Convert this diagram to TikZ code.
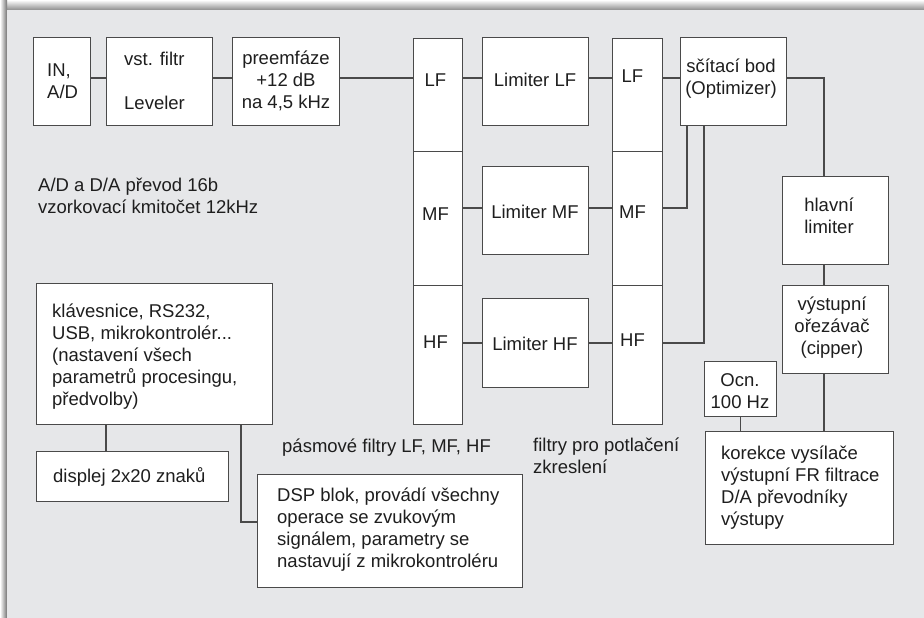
\documentclass[tikz,border=0pt]{standalone}
\usepackage{fontspec}
\setmainfont{Liberation Sans}
\definecolor{panel}{HTML}{E6E7E9}
\definecolor{linec}{HTML}{4A4A4A}
\definecolor{textc}{HTML}{1E1E1E}
\begin{document}
\begin{tikzpicture}[x=1pt,y=-1pt,
  box/.style={draw=linec, fill=white, line width=1.2pt, inner sep=0pt, anchor=north west},
  conn/.style={draw=linec, line width=1.2pt},
  txt/.style={anchor=base west, inner sep=0pt, align=left, text=textc,
     font=\fontsize{18.5}{22}\selectfont},
  ctxt/.style={anchor=base, inner sep=0pt, align=center, text=textc,
     font=\fontsize{18.5}{22}\selectfont}]
% background
\useasboundingbox (0,0) rectangle (924,618);
\fill[white] (0,0) rectangle (924,618);
\shade[top color=white, bottom color=black!45] (0,0) rectangle (924,10);
\shade[left color=white, right color=black!55] (0,0) rectangle (7,618);
\fill[panel] (7,10) rectangle (924,618);
% boxes
\node[box, minimum width=57pt, minimum height=88pt] (inad) at (33,37) {};
\node[box, minimum width=106pt, minimum height=88pt] (vst) at (106,37) {};
\node[box, minimum width=107pt, minimum height=88pt] (pre) at (232,37) {};
\node[box, minimum width=49pt, minimum height=113pt] (bfL) at (413,38) {};
\node[box, minimum width=49pt, minimum height=134pt] (bfM) at (413,151) {};
\node[box, minimum width=49pt, minimum height=139pt] (bfH) at (413,285) {};
\node[box, minimum width=106pt, minimum height=88pt] (limL) at (482,37) {};
\node[box, minimum width=106pt, minimum height=88pt] (limM) at (482,166) {};
\node[box, minimum width=106pt, minimum height=89pt] (limH) at (482,298) {};
\node[box, minimum width=50pt, minimum height=113pt] (pfL) at (612,38) {};
\node[box, minimum width=50pt, minimum height=134pt] (pfM) at (612,151) {};
\node[box, minimum width=50pt, minimum height=139pt] (pfH) at (612,285) {};
\node[box, minimum width=106pt, minimum height=88pt] (sum) at (680,37) {};
\node[box, minimum width=106pt, minimum height=88pt] (hl) at (782,176) {};
\node[box, minimum width=106pt, minimum height=88pt] (out) at (782,285) {};
\node[box, minimum width=72pt, minimum height=55pt] (ocn) at (704,361) {};
\node[box, minimum width=188pt, minimum height=113pt] (kor) at (705,431) {};
\node[box, minimum width=236pt, minimum height=141pt] (kl) at (36,283) {};
\node[box, minimum width=192pt, minimum height=50pt] (disp) at (36,451) {};
\node[box, minimum width=265pt, minimum height=113pt] (dsp) at (257,474) {};
% helper coordinates
\coordinate (rowL) at (0,78);
\coordinate (rowM) at (0,208);
\coordinate (rowH) at (0,343);
\coordinate (busA) at (687,0);
\coordinate (busB) at (704,0);
\coordinate (mainx) at (824,0);
\coordinate (kx1) at (106,0);
\coordinate (kx2) at (241,0);
\coordinate (dspy) at (0,522);
% connectors
\draw[conn] (inad.east|-rowL) -- (vst.west|-rowL);
\draw[conn] (vst.east|-rowL) -- (pre.west|-rowL);
\draw[conn] (pre.east|-rowL) -- (bfL.west|-rowL);
\draw[conn] (bfL.east|-rowL) -- (limL.west|-rowL);
\draw[conn] (limL.east|-rowL) -- (pfL.west|-rowL);
\draw[conn] (pfL.east|-rowL) -- (sum.west|-rowL);
\draw[conn] (bfM.east|-rowM) -- (limM.west|-rowM);
\draw[conn] (limM.east|-rowM) -- (pfM.west|-rowM);
\draw[conn] (bfH.east|-rowH) -- (limH.west|-rowH);
\draw[conn] (limH.east|-rowH) -- (pfH.west|-rowH);
\draw[conn] (pfM.east|-rowM) -| (sum.south-|busA);
\draw[conn] (pfH.east|-rowH) -| (sum.south-|busB);
\draw[conn] (sum.east|-rowL) -| (hl.north-|mainx);
\draw[conn] (hl.south-|mainx) -- (out.north-|mainx);
\draw[conn] (out.south-|mainx) -- (kor.north-|mainx);
\draw[conn] (ocn.south) -- (kor.north-|ocn.south);
\draw[conn] (kl.south-|kx1) -- (disp.north-|kx1);
\draw[conn] (kl.south-|kx2) |- (dsp.west|-dspy);
% texts (multi-line nodes: base = baseline of the last line)
\node[txt] (t1) at (47,99) {IN,\\A/D};
\node[txt] (t2) at (124,110) {vst. filtr\\[22pt]Leveler};
\node[ctxt] (t3) at (286,109) {preemfáze\\+12 dB\\na 4,5 kHz};
\node[ctxt] (t4) at (435.5,86) {LF};
\node[ctxt] (t5) at (435.5,220) {MF};
\node[ctxt] (t6) at (435.5,348) {HF};
\node[ctxt] (t7) at (535,87) {Limiter LF};
\node[ctxt] (t8) at (535,218) {Limiter MF};
\node[ctxt] (t9) at (535,350) {Limiter HF};
\node[ctxt] (t10) at (632.5,83) {LF};
\node[ctxt] (t11) at (632.5,218) {MF};
\node[ctxt] (t12) at (632.5,346) {HF};
\node[ctxt] (t13) at (731,95) {sčítací bod\\(Optimizer)};
\node[ctxt] (t14) at (829,233) {hlavní\\limiter};
\node[ctxt] (t15) at (832,354) {výstupní\\ořezávač\\(cipper)};
\node[ctxt] (t16) at (740,408) {Ocn.\\100 Hz};
\node[txt] (t17) at (721,525) {korekce vysílače\\výstupní FR filtrace\\D/A převodníky\\výstupy};
\node[txt] (t18) at (38,213) {A/D a D/A převod 16b\\vzorkovací kmitočet 12kHz};
\node[txt] (t19) at (52,405) {klávesnice, RS232,\\USB, mikrokontrolér...\\(nastavení všech\\parametrů procesingu,\\předvolby)};
\node[txt] (t20) at (53,482) {displej 2x20 znaků};
\node[txt] (t21) at (277,567) {DSP blok, provádí všechny\\operace se zvukovým\\signálem, parametry se\\nastavují z mikrokontroléru};
\node[txt] (t22) at (282,452) {pásmové filtry LF, MF, HF};
\node[txt] (t23) at (533,473) {filtry pro potlačení\\zkreslení};
\end{tikzpicture}
\end{document}
